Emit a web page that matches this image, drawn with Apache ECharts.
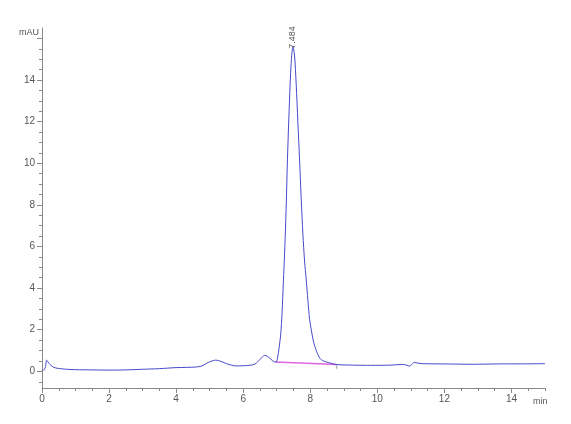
<!DOCTYPE html>
<html>
<head>
<meta charset="utf-8">
<script src="https://cdn.jsdelivr.net/npm/echarts@6/dist/echarts.min.js"></script>
<style>html,body{margin:0;padding:0;background:#fff}#c{width:571px;height:424px}</style>
</head>
<body>
<div id="c"></div>
<script>
// Chromatogram signal (time in min, absorbance in mAU)
const times = [0.00,0.05,0.10,0.14,0.20,0.27,0.34,0.45,0.60,0.73,1.00,1.50,2.00,2.50,3.00,3.50,4.00,4.30,4.60,4.75,4.90,5.05,5.18,5.30,5.50,5.65,5.79,6.00,6.20,6.35,6.49,6.58,6.64,6.72,6.83,6.90,6.96,7.00,7.05,7.10,7.13,7.17,7.20,7.23,7.28,7.32,7.38,7.43,7.484,7.53,7.58,7.63,7.68,7.73,7.78,7.83,7.88,7.93,7.98,8.03,8.10,8.18,8.26,8.34,8.42,8.55,8.77,9.00,9.26,9.60,10.05,10.40,10.75,10.88,10.95,11.03,11.10,11.20,11.35,11.80,12.30,12.74,13.30,13.80,14.40,15.00];
const signal = [0.05,0.06,0.20,0.54,0.40,0.28,0.20,0.15,0.12,0.10,0.08,0.07,0.06,0.07,0.10,0.13,0.18,0.19,0.21,0.25,0.38,0.49,0.54,0.50,0.37,0.30,0.26,0.27,0.29,0.35,0.56,0.70,0.77,0.72,0.58,0.48,0.45,0.48,0.90,1.50,2.00,3.20,4.40,5.50,7.80,10.20,13.00,14.80,15.60,15.20,13.80,12.00,10.20,8.30,6.60,5.30,4.40,3.40,2.50,2.00,1.40,1.00,0.70,0.55,0.48,0.42,0.33,0.31,0.30,0.29,0.29,0.30,0.33,0.30,0.25,0.33,0.43,0.40,0.37,0.36,0.35,0.34,0.35,0.36,0.36,0.37];
// Integration baseline under the main peak
const baseTimes = [6.96, 8.77];
const baseValues = [0.45, 0.33];
// Integration end marker
const markTimes = [8.79, 8.79];
const markValues = [0.30, 0.12];
// Peak annotation
const peakTimes = [7.484];
const peakHeights = [15.6];
const peakLabels = ['7.484'];
// Axis ticks
const xLabelTicks = [0,2,4,6,8,10,12,14];
const yLabelTicks = [0,2,4,6,8,10,12,14];
const yMajorTicks = [0,2,4,6,8,10,12,14,16];
const xMinorTicks = [];
for (let i = 0; i <= 30; i++) xMinorTicks.push(i * 0.5);
const yMinorTicks = [];
for (let i = -1; i <= 32; i++) yMinorTicks.push(i * 0.5);

const chart = echarts.init(document.getElementById('c'), null, {renderer: 'canvas'});
const axisColor = '#8a8a8a';
const labelColor = '#555';
const font = 'Liberation Sans, Arial, sans-serif';

const option = {
  animation: false,
  backgroundColor: '#fff',
  grid: {left: 42, right: 26, top: 28, bottom: 36, containLabel: false},
  xAxis: [{
    type: 'value', min: 0, max: 15,
    axisLine: {show: true, onZero: false, lineStyle: {color: axisColor, width: 1}},
    axisTick: {show: true, length: 5, customValues: xLabelTicks, lineStyle: {color: axisColor}},
    axisLabel: {show: true, customValues: xLabelTicks, color: labelColor, fontSize: 10, fontFamily: font, margin: 6},
    splitLine: {show: false}
  }, {
    type: 'value', min: 0, max: 15, position: 'bottom',
    axisLine: {show: false, onZero: false},
    axisTick: {show: true, length: 3, customValues: xMinorTicks, lineStyle: {color: axisColor}},
    axisLabel: {show: false},
    splitLine: {show: false}
  }],
  yAxis: [{
    type: 'value', min: -0.8, max: 16.5,
    axisLine: {show: true, onZero: false, lineStyle: {color: axisColor, width: 1}},
    axisTick: {show: true, length: 5, customValues: yMajorTicks, lineStyle: {color: axisColor}},
    axisLabel: {show: true, customValues: yLabelTicks, color: labelColor, fontSize: 10, fontFamily: font, margin: 7},
    splitLine: {show: false}
  }, {
    type: 'value', min: -0.8, max: 16.5, position: 'left',
    axisLine: {show: false, onZero: false},
    axisTick: {show: true, length: 3, customValues: yMinorTicks, lineStyle: {color: axisColor}},
    axisLabel: {show: false},
    splitLine: {show: false}
  }],
  graphic: [
    {type: 'text', left: 19, top: 28, style: {text: 'mAU', fill: labelColor, font: '9px ' + font}},
    {type: 'text', left: 533, top: 397, style: {text: 'min', fill: labelColor, font: '9px ' + font}}
  ],
  series: [{
    type: 'line', name: 'signal',
    data: times.map((t, i) => [t, signal[i]]),
    showSymbol: false, smooth: 0.3,
    lineStyle: {color: '#4848cc', width: 1},
    z: 3
  }, {
    type: 'line', name: 'baseline',
    data: baseTimes.map((t, i) => [t, baseValues[i]]),
    showSymbol: false,
    lineStyle: {color: '#e066e0', width: 1.5},
    z: 2
  }, {
    type: 'line', name: 'mark',
    data: markTimes.map((t, i) => [t, markValues[i]]),
    showSymbol: false,
    lineStyle: {color: '#999', width: 1},
    z: 2
  }, {
    type: 'scatter', name: 'peak',
    data: peakTimes.map((t, i) => ({value: [t, peakHeights[i]], label: {formatter: peakLabels[i]}})),
    symbolSize: 0,
    label: {show: true, position: 'top', rotate: 90, align: 'left', verticalAlign: 'middle', distance: -2,
      color: '#333', fontSize: 9, fontFamily: font},
    z: 4
  }]
};
chart.setOption(option);
</script>
</body>
</html>
